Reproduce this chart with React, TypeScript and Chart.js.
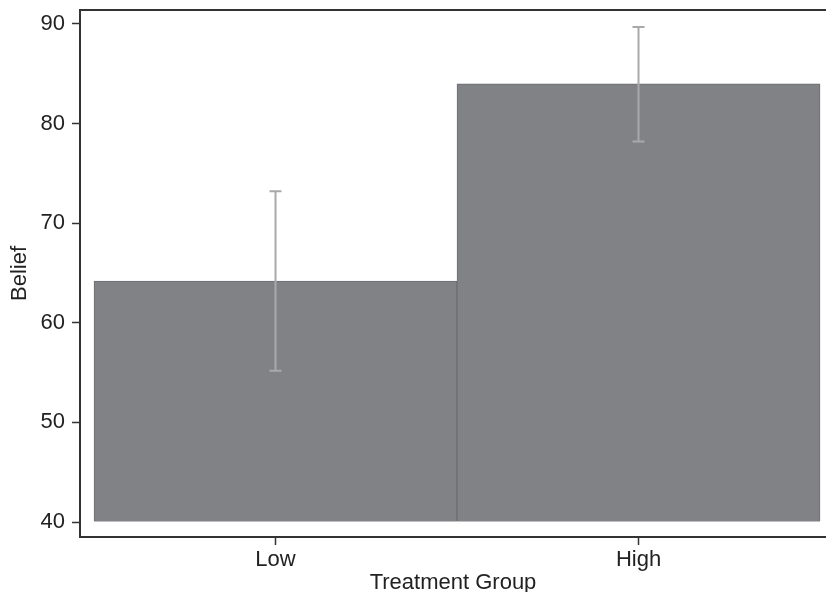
import React, { useEffect, useRef } from "react";
import { Chart, registerables } from "chart.js";

Chart.register(...registerables);

const CATEGORIES = ["Low", "High"];
const MEANS = [64.2, 84.0];
const CI_LOW = [55.2, 78.2];
const CI_HIGH = [73.2, 89.7];
const Y_TICKS = [40, 50, 60, 70, 80, 90];
const BAR_BASE = 40;

const FONT = "'Liberation Sans', Arial, Helvetica, sans-serif";

export default function App() {
  const ref = useRef<HTMLCanvasElement | null>(null);
  useEffect(() => {
    document.body.style.margin = "0";
    const canvas = ref.current!;
    const errorBars = {
      id: "errorBars",
      afterDatasetsDraw(chart: any) {
        const { ctx, scales } = chart;
        const xs = scales.x;
        const ys = scales.y;
        ctx.save();
        ctx.strokeStyle = "#a9a9ab";
        ctx.lineWidth = 2;
        CATEGORIES.forEach((_, i) => {
          const x = xs.getPixelForValue(i);
          const y1 = ys.getPixelForValue(CI_LOW[i]);
          const y2 = ys.getPixelForValue(CI_HIGH[i]);
          ctx.beginPath();
          ctx.moveTo(x, y1);
          ctx.lineTo(x, y2);
          ctx.moveTo(x - 6, y1);
          ctx.lineTo(x + 6, y1);
          ctx.moveTo(x - 6, y2);
          ctx.lineTo(x + 6, y2);
          ctx.stroke();
        });
        ctx.restore();
      },
    };
    const topBorder = {
      id: "topBorder",
      afterDraw(chart: any) {
        const { ctx, chartArea } = chart;
        ctx.save();
        ctx.strokeStyle = "#333333";
        ctx.lineWidth = 2;
        ctx.beginPath();
        ctx.moveTo(chartArea.left - 1, chartArea.top);
        ctx.lineTo(chartArea.right, chartArea.top);
        ctx.stroke();
        ctx.restore();
      },
    };
    const chart = new Chart(canvas, {
      type: "bar",
      data: {
        datasets: [
          {
            data: MEANS.map((v, i) => ({ x: i, y: v })),
            base: BAR_BASE,
            backgroundColor: "#818286",
            borderColor: "#6c6d71",
            borderWidth: 1,
            barPercentage: 1,
            categoryPercentage: 1,
          } as any,
        ],
      },
      options: {
        animation: false,
        responsive: false,
        maintainAspectRatio: false,
        layout: { padding: { top: 10, right: 0, left: 0, bottom: 0 } },
        plugins: { legend: { display: false }, tooltip: { enabled: false } },
        scales: {
          x: {
            type: "linear",
            offset: false,
            min: -0.5386,
            max: 1.5165,
            afterBuildTicks: (s: any) => {
              s.ticks = CATEGORIES.map((_, i) => ({ value: i }));
            },
            afterFit: (s: any) => {
              s.height = 55;
              s.paddingLeft = 0;
              s.paddingRight = 0;
            },
            ticks: {
              callback: (v: any) => CATEGORIES[Math.round(Number(v))] ?? "",
              font: { family: FONT, size: 22 },
              color: "#222222",
              padding: 2,
              maxRotation: 0,
            },
            grid: {
              offset: false,
              drawOnChartArea: false,
              tickLength: 8,
              tickColor: "#333333",
              tickWidth: 1.5,
            },
            border: { display: true, color: "#333333", width: 2 },
            title: {
              display: true,
              text: "Treatment Group",
              font: { family: FONT, size: 22 },
              color: "#222222",
              padding: { top: 0, bottom: -4 },
            },
          },
          y: {
            min: 38.5,
            max: 91.4,
            afterBuildTicks: (s: any) => {
              s.ticks = Y_TICKS.map((v) => ({ value: v }));
            },
            afterFit: (s: any) => {
              s.width = 80;
              s.paddingTop = 0;
              s.paddingBottom = 0;
            },
            ticks: {
              font: { family: FONT, size: 22 },
              color: "#222222",
              padding: 7,
            },
            grid: {
              drawOnChartArea: false,
              tickLength: 8,
              tickColor: "#333333",
              tickWidth: 1.5,
            },
            border: { display: true, color: "#333333", width: 2 },
            title: {
              display: true,
              text: "Belief",
              font: { family: FONT, size: 22 },
              color: "#222222",
              padding: { top: 7, bottom: 0 },
            },
          },
        },
      },
      plugins: [errorBars, topBorder],
    });
    return () => chart.destroy();
  }, []);
  return (
    <div style={{ position: "absolute", left: 0, top: 0, width: 826, height: 592 }}>
      <canvas ref={ref} width={826} height={592} style={{ width: 826, height: 592 }} />
    </div>
  );
}
